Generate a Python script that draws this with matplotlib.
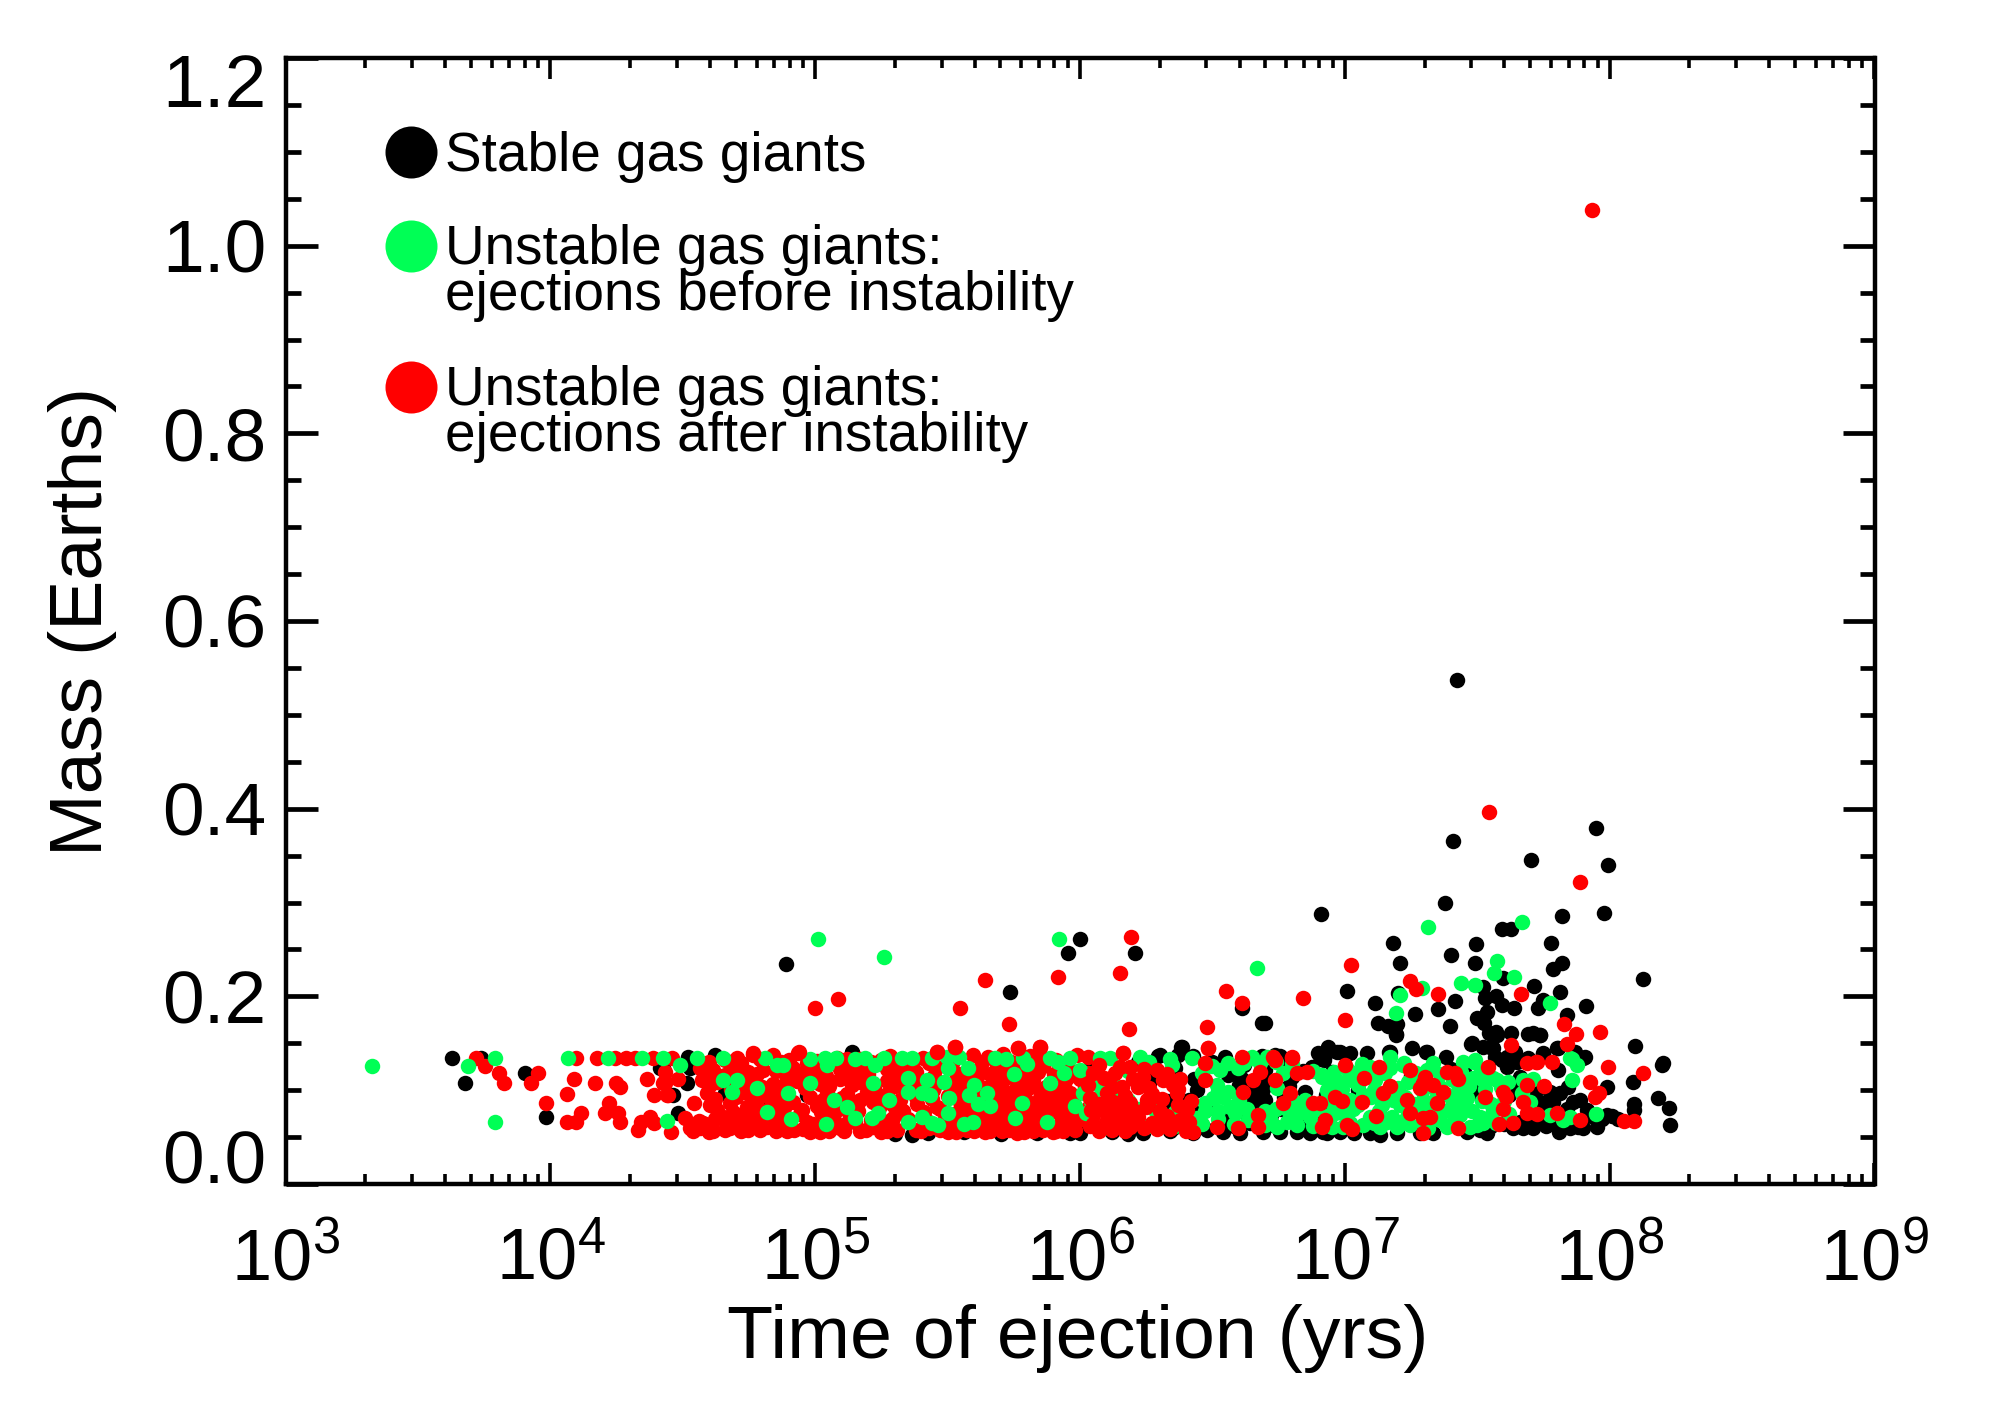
import numpy as np
import matplotlib
matplotlib.use("Agg")
import matplotlib.pyplot as plt
from matplotlib.ticker import LogLocator, MultipleLocator, NullFormatter
from matplotlib.transforms import ScaledTranslation

plt.rcParams['font.family'] = ['Liberation Sans', 'DejaVu Sans']
plt.rcParams['mathtext.fontset'] = 'custom'
plt.rcParams['mathtext.rm'] = 'Liberation Sans'
plt.rcParams['mathtext.default'] = 'regular'

# each entry is (log10 of ejection time in yrs, mass in Earths)
stable = [
    (3.627,.1346),(3.737,.1346),(3.676,.1080),(3.902,.1179),(3.983,.0710),(4.425,.1233),(4.483,.0753),
    (4.521,.1357),(4.621,.1375),(5.138,.1410),(4.414,.1232),(4.527,.1232),(4.514,.1073),(4.464,.0948),
    (4.659,.0966),(4.817,.0895),(4.968,.0948),(5.364,.0520),(5.427,.0540),(4.888,.2345),(5.735,.2043),
    (6.000,.2608),(5.954,.2466),(6.207,.2466),(6.610,.1872),(6.686,.1713),(6.381,.1464),(6.295,.1360),
    (6.427,.1360),(7.422,.5371),(7.409,.3652),(7.947,.3790),(7.702,.3453),(7.993,.3400),(7.379,.3000),
    (7.819,.2856),(7.977,.2885),(6.909,.2878),(7.594,.2714),(7.627,.2721),(7.182,.2572),(7.494,.2558),
    (7.778,.2565),(7.208,.2360),(7.402,.2437),(7.490,.2360),(7.820,.2360),(7.785,.2292),(7.598,.2200),
    (8.127,.2185),(7.008,.2057),(7.202,.2039),(7.523,.2096),(7.714,.2110),(7.814,.2050),(7.749,.1961),
    (7.729,.1880),(7.911,.1897),(7.112,.1933),(7.416,.1954),(7.353,.1869),(7.263,.1812),(7.529,.1979),
    (7.571,.2004),(7.594,.1908),(7.640,.1880),(7.538,.1837),(7.498,.1773),(6.697,.1713),(7.126,.1720),
    (7.164,.1684),(7.198,.1702),(7.192,.1599),(7.397,.1684),(7.526,.1713),(7.837,.1801),(7.572,.1617),
    (7.545,.1606),(7.626,.1613),(7.690,.1599),(7.737,.1592),(7.476,.1492),(7.523,.1464),(7.548,.1464),
    (7.806,.1446),(8.096,.1475),(7.869,.1410),(7.905,.1357),(8.200,.1286),(7.747,.1400),(6.936,.1453),
    (6.971,.1410),(7.019,.1400),(7.082,.1400),(6.906,.1365),(7.168,.1410),(7.252,.1446),(7.306,.1410),
    (7.382,.1357),(7.567,.1357),(7.611,.1357),(6.686,.1365),(6.755,.1365),(8.199,.1268),(8.089,.1090),
    (8.181,.0913),(8.092,.0852),(8.225,.0813),(8.092,.0788),(8.228,.0629),(7.989,.1037),(7.989,.0735),
    (8.033,.0689),(7.951,.0611),(7.900,.0593),(7.810,.0558),(7.879,.0611),(7.712,.0593),(7.636,.0593),
    (7.674,.0593),(7.913,.0788),(7.863,.0877),(7.812,.0966),(7.774,.0984),(7.844,.1037),(7.900,.1339),
    (7.800,.1446),(7.806,.1215),(7.888,.0895),(7.787,.0877),(7.737,.0877),(7.724,.0700),(7.686,.0700),
    (7.712,.0788),(7.535,.0540),(6.931,.0540),(6.982,.0558),(7.034,.0540),(7.095,.0540),(7.133,.0520),
    (7.196,.0540),(7.284,.0540),(7.334,.0540),(7.460,.0558),(7.510,.0575),(6.937,.1463),(6.925,.1375),
    (6.981,.1410),(7.170,.1410),(7.309,.1410),(7.193,.1588),(7.479,.1499),(7.561,.1446),(7.573,.1588),
    (7.592,.1321),(7.649,.1303),(7.693,.1339),(7.750,.1390),(7.712,.1606),(7.737,.1588),(7.611,.1250),
    (7.642,.1410),(7.661,.1144),(6.384,.1463),(6.302,.1375),(6.371,.1375),(6.547,.1357),(6.686,.1357),
    (6.736,.1375),(6.900,.1392),(6.920,.1321),(6.875,.1250),(6.673,.0966),(6.648,.0930),(6.673,.0824),
    (6.642,.0646),(6.692,.0558),(6.755,.0558),(6.818,.0558),(6.868,.0540),(6.919,.0558),(6.478,.0575),
    (6.428,.0540),(6.239,.0540),(5.999,.0540),(5.836,.0540),(6.037,.1232),(6.440,.1002),(5.960,.0540),
    (6.403,.0611),(6.604,.0540),(6.541,.0558),(5.140,.1393),(6.260,.1080),(6.330,.0880),(6.450,.0760),
    (6.610,.1120),(6.700,.1100),(6.790,.1040),(6.850,.0980),(6.950,.1190),(6.600,.0780),(6.760,.0800),
    (6.880,.0690),(5.300,.0530),(5.560,.0550),(5.700,.0530),(6.120,.0550),(6.180,.0530),(6.340,.0560),
    (6.22,.1300),(6.28,.1180),(6.36,.1240),(6.43,.1120),(6.50,.1300),(6.56,.1160),(6.62,.1270),
    (6.70,.1220),(6.78,.1300),(6.84,.1200),(6.28,.0920),(6.35,.0780),(6.41,.0900),(6.48,.0800),
    (6.55,.0680),(6.63,.0980),(6.70,.0900),(6.72,.0740),(6.77,.0930),(6.83,.0800),(6.86,.0640),
    (6.92,.0800),(6.30,.0650),(6.35,.0600),(6.46,.0630),(6.58,.0620),(6.66,.0770),(6.73,.0630),
    (6.60,.1050),(6.69,.1010),(6.80,.1140),(6.93,.0950),(6.98,.0950),(7.05,.1000),(7.12,.0650),
    (7.25,.1150),(7.40,.1230),(7.45,.1190),(7.50,.0980),(7.62,.0950),(7.66,.0660),(7.72,.1000),
    (7.76,.0620),(7.80,.0680),(7.84,.0800),(7.75,.0800),(7.66,.1010),(7.60,.0640),(7.55,.0620),
    (7.93,.0720),(7.85,.0600),(7.97,.0690),(8.01,.0720),
]

green = [
    (3.326,.1261),(3.688,.1261),(3.792,.1346),(3.792,.0664),(4.067,.1346),(4.219,.1346),(4.344,.1346),
    (4.424,.1346),(4.489,.1268),(4.552,.1346),(4.441,.0675),(4.650,.1346),(4.810,.1346),(4.879,.1268),
    (4.854,.1268),(5.037,.1339),(5.043,.1268),(5.188,.1339),(5.226,.1268),(5.327,.1339),(5.364,.1339),
    (5.440,.1339),(4.653,.1108),(4.703,.1108),(4.980,.1080),(5.219,.1080),(5.351,.1126),(5.420,.1108),
    (5.402,.0966),(5.433,.0948),(5.238,.0753),(5.213,.0700),(5.351,.0664),(5.402,.0717),(5.440,.0646),
    (4.898,.0966),(4.684,.0984),(4.816,.0771),(5.496,.1357),(5.544,.1357),(5.578,.1232),(5.783,.1339),
    (5.486,.1090),(5.582,.0948),(5.647,.0966),(5.616,.0852),(5.506,.0913),(5.502,.0753),(5.465,.0629),
    (5.597,.0664),(5.754,.0700),(5.874,.0664),(5.886,.1073),(5.886,.1339),(5.918,.1303),(5.962,.1339),
    (6.075,.1339),(6.113,.1339),(6.226,.1357),(6.056,.1073),(6.123,.1080),(6.012,.0966),(6.022,.0753),
    (6.088,.0593),(6.258,.0618),(6.151,.0771),(6.346,.1268),(6.421,.1339),(6.528,.1215),(6.598,.1232),
    (6.648,.1339),(6.723,.1357),(6.516,.1055),(6.503,.0913),(6.472,.0859),(6.541,.0930),(6.566,.0824),
    (6.585,.0753),(6.440,.0700),(6.635,.0682),(6.717,.0700),(6.742,.0611),(6.818,.0859),(6.818,.0735),
    (6.818,.0629),(6.868,.0717),(6.913,.1144),(6.742,.1019),(6.768,.1179),(6.931,.1000),(5.009,.2608),
    (5.259,.2420),(5.920,.2608),(6.667,.2306),(7.314,.2743),(7.670,.2793),(7.574,.2377),(7.564,.2246),
    (7.639,.2203),(7.291,.2086),(7.208,.2015),(7.440,.2142),(7.493,.2125),(7.775,.1926),(7.192,.1819),
    (7.850,.1340),(7.170,.1350),(7.447,.1300),(7.493,.1320),(7.334,.1286),(7.224,.1286),(7.063,.1280),
    (6.648,.1357),(6.705,.1357),(7.487,.1303),(7.221,.1268),(7.856,.1332),(7.875,.1268),(7.856,.1108),
    (7.712,.1115),(7.674,.1108),(7.668,.0966),(7.699,.0877),(7.775,.0735),(7.825,.0682),(7.850,.0717),
    (7.948,.0746),(7.573,.1108),(7.617,.1090),(7.523,.1108),(7.485,.1126),(7.454,.0966),(7.519,.0888),
    (7.447,.0859),(7.435,.0735),(7.384,.0604),(7.315,.0593),(7.472,.0611),(7.523,.0646),(7.548,.0717),
    (7.510,.0717),(7.391,.0788),(7.359,.1037),(7.391,.0948),(7.296,.0895),(7.321,.0824),(7.227,.0930),
    (7.240,.1090),(7.177,.1000),(7.114,.1108),(7.070,.0948),(7.051,.0842),(7.095,.0717),(7.070,.0629),
    (7.133,.0611),(7.177,.0717),(7.196,.0611),(7.246,.0629),(7.208,.0842),(7.139,.0842),(7.026,.1108),
    (6.982,.1090),(6.944,.1090),(6.912,.1161),(6.956,.0842),(6.937,.0966),(6.963,.0753),(6.994,.0611),
    (7.095,.1250),(7.151,.1179),(7.410,.1108),(7.296,.0700),
    (6.96,.1195),(7.01,.1210),(7.05,.1180),(7.12,.1200),(7.17,.1240),(7.27,.1180),(7.31,.1220),
    (7.36,.1170),(7.44,.1190),(7.51,.1170),(7.56,.1130),(6.94,.1030),(6.99,.1010),(7.05,.1050),
    (7.11,.1000),(7.20,.1020),(7.29,.1000),(7.33,.1030),(7.43,.1020),(7.47,.1040),(7.53,.1010),
    (7.59,.1030),(6.97,.0900),(7.02,.0890),(7.10,.0930),(7.18,.0890),(7.26,.0850),(7.34,.0900),
    (7.41,.0880),(7.46,.0920),(7.55,.0850),(7.60,.0880),(6.93,.0720),(6.99,.0760),(7.03,.0800),
    (7.13,.0780),(7.24,.0750),(7.29,.0790),(7.35,.0760),(7.43,.0800),(7.48,.0780),(7.56,.0780),
    (7.62,.0750),(6.95,.0610),(7.02,.0650),(7.11,.0650),(7.22,.0670),(7.30,.0630),(7.36,.0680),
    (7.41,.0650),(7.50,.0630),(7.57,.0650),(6.92,.0650),(7.16,.0660),(6.46,.1180),(6.50,.1260),
    (6.56,.1290),(6.62,.1290),(6.68,.1290),(6.74,.1300),(6.80,.1280),(6.88,.1200),(6.52,.0990),
    (6.56,.0980),(6.60,.0900),(6.63,.0800),(6.47,.0780),(6.52,.0780),(6.40,.0780),(6.36,.0770),
    (6.70,.0780),(6.74,.0800),(6.78,.0800),(6.85,.0900),(6.90,.0800),(6.86,.0800),(6.70,.0630),
    (6.78,.0660),(6.88,.0620),(6.58,.0640),(6.46,.0640),(6.52,.0690),(6.36,.0620),(6.31,.0620),
    (6.22,.0800),(6.18,.0900),(6.28,.0800),(6.16,.0640),(6.08,.1020),(6.18,.1200),(6.26,.1300),
    (6.34,.1330),(6.04,.0880),
    (4.98,.1330),(5.08,.1338),(5.15,.1335),(5.26,.1338),(5.68,.1340),(5.72,.1335),(5.80,.1280),
    (5.50,.1240),(5.60,.1050),(5.66,.0830),(5.35,.0980),(5.12,.0820),(5.07,.0900),(4.78,.1020),
    (5.04,.0640),(4.91,.0690),(5.15,.0700),(5.28,.0900),(5.75,.1170),(5.94,.1180),(5.98,.0830),
    (5.78,.0860),(5.56,.0640),(6.00,.1220),(6.05,.0910),(6.14,.0980),
]

# red runs that sit beneath the green points
red_under = [
    (3.720,.1346),(3.754,.1261),(3.804,.1179),(3.826,.1073),(3.954,.1179),(3.927,.1073),(3.983,.0860),
    (4.087,.1119),(4.062,.0956),(4.062,.0664),(4.096,.0664),(4.116,.0753),(4.096,.1346),(4.167,.1080),
    (4.248,.1073),(4.261,.1037),(4.222,.0860),(4.205,.0753),(4.256,.0753),(4.264,.0664),(4.332,.0576),
    (4.340,.0664),(4.374,.0718),(4.391,.0647),(4.455,.0551),(4.174,.1346),(4.244,.1346),(4.285,.1346),
    (4.319,.1346),(4.388,.1346),(4.458,.1346),(4.365,.1115),(4.391,.0949),(4.425,.1073),(4.441,.0949),
    (4.483,.1115),(4.433,.1197),(4.433,.1080),(4.445,.0948),(4.508,.0700),(4.542,.0859),(4.577,.0646),
    (4.571,.1108),(4.565,.1232),(4.590,.0966),(4.703,.1340),(4.766,.1375),(4.842,.1375),(4.936,.1395),
    (5.005,.1310),(5.081,.1346),(5.169,.1330),(5.282,.1360),(5.408,.1339),(4.615,.1215),(4.691,.1230),
    (4.747,.1190),(4.804,.1215),(4.917,.1240),(5.005,.1200),(5.093,.1225),(5.169,.1190),(5.270,.1225),
    (5.333,.1205),(4.628,.1090),(4.766,.1110),(4.842,.1065),(4.930,.1095),(5.018,.1070),(5.093,.1115),
    (5.169,.1085),(5.270,.1100),(5.314,.1060),(5.408,.1075),(4.741,.0966),(4.791,.0985),(4.867,.0950),
    (5.043,.0975),(5.119,.0955),(5.194,.0985),(5.270,.0960),(5.345,.0990),(4.602,.0842),(4.678,.0860),
    (4.741,.0825),(4.842,.0845),(4.917,.0870),(5.005,.0830),(5.068,.0855),(5.144,.0820),(5.219,.0870),
    (5.295,.0840),(5.383,.0855),(5.458,.0825),(4.653,.0717),(4.716,.0735),(4.779,.0700),(4.867,.0725),
    (4.942,.0745),(5.043,.0710),(5.131,.0735),(5.295,.0700),(4.565,.0593),(4.615,.0560),(4.678,.0600),
    (4.747,.0575),(4.816,.0610),(4.892,.0560),(4.955,.0590),(5.018,.0555),(5.093,.0600),(5.169,.0570),
    (5.219,.0610),(5.270,.0565),(4.526,.0600),(4.720,.0640),(4.850,.0650),(4.990,.0640),(5.120,.0655),
    (5.250,.0640),(5.380,.0580),(5.430,.0600),(5.458,.1410),(5.597,.1375),(5.654,.1350),(5.710,.1385),
    (5.811,.1365),(5.861,.1340),(5.987,.1375),(6.031,.1355),(5.458,.1250),(5.509,.1270),(5.622,.1235),
    (5.685,.1265),(5.748,.1240),(5.811,.1220),(5.861,.1260),(5.937,.1240),(5.559,.1126),(5.609,.1145),
    (5.672,.1110),(5.729,.1135),(5.779,.1150),(5.823,.1105),(5.949,.1130),(5.999,.1115),(5.446,.1000),
    (5.534,.1020),(5.597,.0985),(5.685,.1010),(5.742,.0980),(5.798,.1015),(5.849,.0990),(5.912,.1005),
    (5.962,.0975),(5.547,.0877),(5.672,.0895),(5.716,.0860),(5.761,.0885),(5.811,.0860),(5.868,.0900),
    (5.918,.0870),(5.974,.0890),(5.534,.0753),(5.572,.0775),(5.647,.0740),(5.698,.0765),(5.798,.0735),
    (5.823,.0770),(5.924,.0745),(5.987,.0760),(6.050,.0735),(5.509,.0629),(5.547,.0650),(5.647,.0620),
    (5.698,.0645),(5.786,.0615),(5.849,.0640),(5.924,.0625),(5.974,.0650),(6.037,.0620),(5.502,.0558),
    (5.572,.0575),(5.641,.0550),(5.704,.0570),(5.761,.0545),(5.823,.0565),(5.899,.0550),(5.937,.0570),
    (4.60,.1300),(4.66,.1320),(4.72,.1290),(4.79,.1330),(4.87,.1300),(4.90,.1320),(4.97,.1290),
    (5.05,.1310),(5.12,.1330),(5.21,.1295),(5.25,.1320),(5.31,.1300),(5.37,.1315),(5.43,.1290),
    (5.52,.1310),(5.63,.1300),(5.68,.1320),(5.74,.1305),(5.83,.1290),(5.91,.1320),(5.95,.1300),
    (4.60,.1180),(4.66,.1160),(4.72,.1190),(4.78,.1170),(4.85,.1200),(4.89,.1160),(4.96,.1180),
    (5.04,.1150),(5.13,.1190),(5.20,.1170),(5.30,.1160),(5.38,.1190),(5.45,.1150),(5.53,.1180),
    (5.59,.1200),(5.66,.1170),(5.71,.1190),(5.78,.1160),(5.84,.1190),(5.90,.1170),(5.97,.1200),
    (6.03,.1180),(4.60,.1040),(4.68,.1010),(4.72,.1050),(4.80,.1030),(4.88,.1050),(4.96,.1020),
    (5.05,.1040),(5.14,.1060),(5.22,.1020),(5.30,.1040),(5.36,.1050),(5.45,.1030),(5.52,.1060),
    (5.58,.1040),(5.64,.1020),(5.70,.1055),(5.76,.1030),(5.81,.1060),(5.87,.1035),(5.94,.1050),
    (6.02,.1030),(4.62,.0910),(4.70,.0930),(4.78,.0890),(4.83,.0920),(4.90,.0900),(4.98,.0930),
    (5.03,.0900),(5.10,.0920),(5.17,.0890),(5.25,.0920),(5.32,.0900),(5.38,.0930),(5.44,.0910),
    (5.50,.0935),(5.58,.0900),(5.63,.0925),(5.69,.0945),(5.74,.0920),(5.79,.0940),(5.85,.0915),
    (5.90,.0935),(5.95,.0920),(6.04,.0900),(4.63,.0790),(4.69,.0770),(4.76,.0800),(4.81,.0780),
    (4.88,.0810),(4.95,.0790),(5.02,.0770),(5.09,.0800),(5.16,.0780),(5.24,.0810),(5.33,.0780),
    (5.41,.0770),(5.47,.0800),(5.55,.0820),(5.61,.0790),(5.67,.0810),(5.73,.0785),(5.77,.0815),
    (5.84,.0795),(5.89,.0820),(5.96,.0790),(6.03,.0810),(4.56,.0670),(4.62,.0690),(4.69,.0660),
    (4.75,.0680),(4.83,.0670),(4.90,.0690),(4.97,.0665),(5.07,.0680),(5.15,.0660),(5.21,.0680),
    (5.28,.0670),(5.35,.0690),(5.42,.0670),(5.49,.0690),(5.56,.0665),(5.62,.0685),(5.68,.0690),
    (5.74,.0665),(5.81,.0680),(5.87,.0690),(5.94,.0675),(6.01,.0690),(4.54,.0570),(4.60,.0555),
    (4.66,.0575),(4.72,.0560),(4.79,.0580),(4.85,.0560),(4.92,.0575),(4.98,.0555),(5.05,.0570),
    (5.11,.0560),(5.19,.0575),(5.25,.0555),(5.31,.0580),(5.40,.0560),(5.47,.0575),(5.53,.0555),
    (5.60,.0570),(5.66,.0560),(5.73,.0575),(5.79,.0555),(5.86,.0575),(5.91,.0560),(5.98,.0575),
]

red = [
    (5.526,.1464),(5.460,.1410),(5.767,.1446),(5.847,.1464),(4.938,.1410),(4.766,.1393),(4.999,.1880),
    (5.086,.1976),(5.640,.2174),(5.545,.1880),(5.730,.1710),(6.193,.2629),(5.918,.2203),(6.152,.2253),
    (6.183,.1649),(6.479,.1674),(6.550,.2057),(6.613,.1933),(6.483,.1446),(6.163,.1400),(7.933,1.0385),
    (7.545,.3968),(7.889,.3222),(7.023,.2330),(6.843,.1986),(7.246,.2167),(7.269,.2075),(7.350,.2022),
    (7.666,.2025),(7.000,.1748),(7.829,.1702),(7.871,.1599),(7.962,.1617),(7.626,.1482),(7.837,.1492),
    (7.722,.1300),(7.781,.1300),(7.686,.1286),(6.730,.1350),(6.799,.1350),(7.995,.1250),(8.124,.1179),
    (7.727,.1303),(7.539,.1243),(7.428,.1115),(7.416,.1186),(7.384,.1197),(7.130,.1250),(7.000,.1268),
    (7.073,.1126),(7.246,.1215),(7.303,.1144),(7.170,.1044),(7.143,.0973),(6.963,.0930),(6.988,.0888),
    (7.063,.0877),(7.296,.1073),(7.284,.1019),(7.334,.1055),(7.372,.0984),(7.347,.0859),(7.233,.0895),
    (7.246,.0753),(7.117,.0725),(7.007,.0629),(7.026,.0582),(6.925,.0682),(6.912,.0611),(7.296,.0700),
    (7.321,.0710),(7.428,.0593),(7.294,.0540),(7.596,.0984),(7.608,.0930),(7.596,.0796),(7.583,.0639),
    (7.634,.0654),(7.674,.0877),(7.686,.0753),(7.727,.0742),(7.752,.1044),(7.686,.1050),(7.800,.0753),
    (7.888,.0682),(7.926,.1090),(7.961,.0966),(7.945,.0930),(8.054,.0675),(8.092,.0675),(7.529,.0930),
    (5.528,.1463),(5.767,.1446),(5.849,.1456),(6.163,.1392),(6.484,.1446),(6.472,.1286),(6.610,.1357),
    (6.736,.1321),(6.799,.1339),(6.680,.1197),(6.654,.1108),(6.736,.1108),(6.818,.1179),(6.856,.1197),
    (6.377,.1115),(6.472,.1108),(6.616,.0984),(6.793,.0966),(6.768,.0859),(6.881,.0859),(6.906,.0859),
    (6.673,.0735),(6.673,.0611),(6.598,.0593),(6.516,.0611),(6.314,.0700),(6.377,.0682),(6.428,.0558),
    (6.403,.0788),(6.365,.0966),(6.314,.1108),(6.289,.1215),(6.239,.1144),(6.188,.1250),(6.132,.1179),
    (6.157,.1037),(6.125,.0877),(6.188,.0859),(6.251,.0895),(6.163,.0735),(6.188,.0611),(6.119,.0717),
    (6.037,.0913),(6.05,.1180),(6.10,.0970),(6.17,.0940),(6.22,.1030),(6.27,.0960),(6.30,.0780),
    (6.22,.0710),(6.27,.0650),(6.05,.0640),(6.12,.0580),(6.24,.0600),(6.07,.0850),(6.35,.1060),
    (6.42,.0880),(6.34,.0590),(6.40,.0570),
    (6.03,.1050),(6.07,.1270),(6.09,.1130),(6.12,.1030),(6.15,.1250),(6.20,.1120),(6.24,.1230),
    (6.26,.1020),(6.31,.0910),(6.33,.1170),(6.37,.1010),(6.04,.0790),(6.09,.0790),(6.14,.0830),
    (6.20,.0790),(6.25,.0820),(6.33,.0720),(6.37,.0840),(6.41,.0660),(6.10,.0680),(6.15,.0670),
    (6.20,.0650),(6.29,.0590),(6.36,.0640),(6.07,.0570),(6.17,.0570),(6.32,.1120),(6.26,.0880),
]

x_tick_exponents = [3, 4, 5, 6, 7, 8, 9]
y_ticks = [0.0, 0.2, 0.4, 0.6, 0.8, 1.0, 1.2]
y_tick_labels = ['0.0', '0.2', '0.4', '0.6', '0.8', '1.0', '1.2']

BLACK = '#000000'
GREEN = '#00FF55'
RED = '#FF0000'
W, H = 1992, 1413


def fx(px):
    return px / W


def fy(py):
    return 1 - py / H


def scatter_series(ax, points, color):
    pts = np.array(points).T
    ax.scatter(10 ** pts[0], pts[1], s=124, c=color, linewidths=0)


fig = plt.figure(figsize=(W / 100, H / 100), dpi=100)
ax = fig.add_axes([fx(285.7), fy(1184), fx(1874.5 - 285.7), (1184 - 58) / H])
ax.set_xscale('log')

scatter_series(ax, stable, BLACK)
scatter_series(ax, red_under, RED)
scatter_series(ax, green, GREEN)
scatter_series(ax, red, RED)

ax.set_xlim(1e3, 1e9)
ax.set_ylim(0, 1.2)

ax.set_xticks([10.0 ** e for e in x_tick_exponents])
ax.set_xticklabels(['$10^{%d}$' % e for e in x_tick_exponents])
ax.xaxis.set_minor_locator(LogLocator(base=10, subs=range(2, 10), numticks=12))
ax.xaxis.set_minor_formatter(NullFormatter())
ax.set_yticks(y_ticks)
ax.set_yticklabels(y_tick_labels)
ax.yaxis.set_minor_locator(MultipleLocator(0.05))

ax.tick_params(axis='x', which='major', direction='in', top=True, length=15, width=2.6,
               labelsize=52, pad=31)
ax.tick_params(axis='x', which='minor', direction='in', top=True, length=7.5, width=2.6)
ax.tick_params(axis='y', which='major', direction='in', right=True, length=23, width=3.4,
               labelsize=54, pad=14)
ax.tick_params(axis='y', which='minor', direction='in', right=True, length=11, width=3.4)
for spine in ax.spines.values():
    spine.set_linewidth(3.2)

# the end labels stay inside the span of the axis
ytl = ax.get_yticklabels()
ytl[0].set_va('baseline')
ytl[-1].set_va('top')
ytl[-1].set_transform(ytl[-1].get_transform() + ScaledTranslation(0, 5 / 100, fig.dpi_scale_trans))

ax.set_xlabel('Time of ejection (yrs)', fontsize=54.3)
ax.xaxis.set_label_coords((1078 - 285.7) / (1874.5 - 285.7), -0.107)
ax.set_ylabel('Mass (Earths)', fontsize=54.3)
ax.yaxis.set_label_coords(-0.106, 0.5)

# hand-placed key in the upper left
key_size = 39.5
for y, color in [(152, BLACK), (246, GREEN), (387, RED)]:
    ax.scatter([fx(411)], [fy(y)], s=1402, c=color, linewidths=0,
               transform=fig.transFigure, clip_on=False)
for y, label in [(171, 'Stable gas giants'),
                 (264, 'Unstable gas giants:'),
                 (310, 'ejections before instability'),
                 (405, 'Unstable gas giants:'),
                 (451, 'ejections after instability')]:
    fig.text(fx(444.5), fy(y), label, fontsize=key_size, va='baseline', ha='left')

fig.savefig('out.png', dpi=100)
